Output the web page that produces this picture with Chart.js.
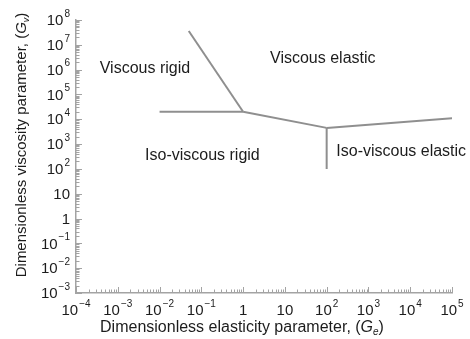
<!DOCTYPE html>
<html>
<head>
<meta charset="utf-8">
<script src="https://cdn.jsdelivr.net/npm/chart.js@4"></script>
<style>
  html, body { margin: 0; padding: 0; background: #fff; }
  #wrap { width: 470px; height: 339px; }
</style>
</head>
<body>
<div id="wrap"><canvas id="regimeChart"></canvas></div>
<script>
// regime boundaries, points as [Ge, Gv]
const viscousRigidEdge = [[0.05, 3.6e7], [1, 2e4]];
const isoRigidEdge = [[0.01, 2e4], [1, 2e4]];
const viscousMidEdge = [[1, 2e4], [100, 4.5e3]];
const isoElasticEdge = [[100, 4.5e3], [100, 100]];
const viscousElasticEdge = [[100, 4.5e3], [1e5, 1.1e4]];

const regionNames = ['Viscous rigid', 'Viscous elastic', 'Iso-viscous rigid', 'Iso-viscous elastic'];
// where each name sits (left edge, middle), in data units
const regionAnchors = [[3.7e-4, 1.1e6], [4.4, 2.7e6], [0.0045, 330], [170, 520]];

const xDecades = [-4, -3, -2, -1, 0, 1, 2, 3, 4, 5];
const yDecades = [-3, -2, -1, 0, 1, 2, 3, 4, 5, 6, 7, 8];
const xTickLabels = [['10', '\u22124'], ['10', '\u22123'], ['10', '\u22122'], ['10', '\u22121'], ['1', ''], ['10', ''], ['10', '2'], ['10', '3'], ['10', '4'], ['10', '5']];
const yTickLabels = [['10', '\u22123'], ['10', '\u22122'], ['10', '\u22121'], ['1', ''], ['10', ''], ['10', '2'], ['10', '3'], ['10', '4'], ['10', '5'], ['10', '6'], ['10', '7'], ['10', '8']];

const FONT = 'Arial, "Liberation Sans", sans-serif';
const LINE = '#8f8f8f';
const AXIS = '#a3a3a3';
const INK = '#1c1c1c';

function toPoints(arr) {
    return arr.map(p => ({ x: p[0], y: p[1] }));
}

function edge(arr) {
    return {
        data: toPoints(arr),
        showLine: true,
        borderColor: LINE,
        borderWidth: 2,
        pointRadius: 0,
        fill: false
    };
}

// decades plus 2..9 in between
function logTicks(decades) {
    const out = [];
    decades.forEach((e, i) => {
        const m = i === decades.length - 1 ? 1 : 9;
        for (let k = 1; k <= m; k++) {
            out.push({ value: k * Math.pow(10, e), major: k === 1 });
        }
    });
    return out;
}

function drawPowerLabel(ctx, base, exp, x, y, align) {
    ctx.font = '15px ' + FONT;
    const bw = ctx.measureText(base).width;
    ctx.font = '10px ' + FONT;
    const ew = exp ? ctx.measureText(exp).width + 1 : 0;
    const w = bw + ew;
    let left = x;
    if (align === 'center') left = x - w / 2;
    if (align === 'right') left = x - w;
    ctx.textAlign = 'left';
    ctx.textBaseline = 'middle';
    ctx.font = '15px ' + FONT;
    ctx.fillText(base, left, y);
    if (exp) {
        ctx.font = '10px ' + FONT;
        ctx.fillText(exp, left + bw + 1, y - 7);
    }
}

// "(G" + italic subscript + ")"
function drawGTitle(ctx, prefix, sub, cx, cy, size) {
    const f = size + 'px ' + FONT;
    const fi = 'italic ' + size + 'px ' + FONT;
    const fs = 'italic ' + Math.round(size * 0.62) + 'px ' + FONT;
    ctx.font = f;
    const w1 = ctx.measureText(prefix + '(').width;
    ctx.font = fi;
    const wg = ctx.measureText('G').width;
    ctx.font = fs;
    const ws = ctx.measureText(sub).width;
    ctx.font = f;
    const wc = ctx.measureText(')').width;
    let x = cx - (w1 + wg + ws + wc) / 2;
    ctx.textAlign = 'left';
    ctx.textBaseline = 'middle';
    ctx.font = f;
    ctx.fillText(prefix + '(', x, cy); x += w1;
    ctx.font = fi;
    ctx.fillText('G', x, cy); x += wg;
    ctx.font = fs;
    ctx.fillText(sub, x, cy + 4); x += ws;
    ctx.font = f;
    ctx.fillText(')', x, cy);
}

const decorations = {
    id: 'decorations',
    afterDraw(chart) {
        const { ctx, chartArea: a, scales: { x, y } } = chart;
        ctx.save();

        // inward tick marks
        ctx.strokeStyle = AXIS;
        ctx.lineWidth = 1;
        x.ticks.forEach(t => {
            const px = Math.round(x.getPixelForValue(t.value)) + 0.5;
            const len = t.major ? 6 : 3.5;
            ctx.beginPath();
            ctx.moveTo(px, a.bottom);
            ctx.lineTo(px, a.bottom - len);
            ctx.stroke();
        });
        y.ticks.forEach(t => {
            const py = Math.round(y.getPixelForValue(t.value)) + 0.5;
            const len = t.major ? 6 : 3.5;
            ctx.beginPath();
            ctx.moveTo(a.left, py);
            ctx.lineTo(a.left + len, py);
            ctx.stroke();
        });

        // tick labels
        ctx.fillStyle = INK;
        xDecades.forEach((e, i) => {
            const px = x.getPixelForValue(Math.pow(10, e));
            drawPowerLabel(ctx, xTickLabels[i][0], xTickLabels[i][1], px, a.bottom + 18, 'center');
        });
        yDecades.forEach((e, i) => {
            const py = y.getPixelForValue(Math.pow(10, e));
            drawPowerLabel(ctx, yTickLabels[i][0], yTickLabels[i][1], a.left - 6, py + 1, 'right');
        });

        // region names
        ctx.font = '16px ' + FONT;
        ctx.textAlign = 'left';
        ctx.textBaseline = 'middle';
        regionNames.forEach((name, i) => {
            const [gx, gy] = regionAnchors[i];
            ctx.fillText(name, x.getPixelForValue(gx), y.getPixelForValue(gy));
        });

        // axis titles
        drawGTitle(ctx, 'Dimensionless elasticity parameter, ', 'e', 242, 328, 16);
        ctx.save();
        ctx.translate(22, 145);
        ctx.rotate(-Math.PI / 2);
        drawGTitle(ctx, 'Dimensionless viscosity parameter, ', 'v', 0, 0, 15);
        ctx.restore();

        ctx.restore();
    }
};

new Chart(document.getElementById('regimeChart'), {
    type: 'scatter',
    data: {
        datasets: [
            edge(viscousRigidEdge),
            edge(isoRigidEdge),
            edge(viscousMidEdge),
            edge(isoElasticEdge),
            edge(viscousElasticEdge)
        ]
    },
    options: {
        responsive: true,
        maintainAspectRatio: false,
        animation: false,
        layout: { padding: { left: 76, right: 18, top: 20, bottom: 46 } },
        plugins: {
            legend: { display: false },
            tooltip: { enabled: false }
        },
        scales: {
            x: {
                type: 'logarithmic',
                min: 1e-4,
                max: 1e5,
                afterBuildTicks: s => { s.ticks = logTicks(xDecades); },
                ticks: { display: false },
                grid: { display: false, drawTicks: false },
                border: { display: true, color: AXIS, width: 1.5 }
            },
            y: {
                type: 'logarithmic',
                min: 1e-3,
                max: 1e8,
                afterBuildTicks: s => { s.ticks = logTicks(yDecades); },
                ticks: { display: false },
                grid: { display: false, drawTicks: false },
                border: { display: true, color: AXIS, width: 1.5 }
            }
        }
    },
    plugins: [decorations]
});
</script>
</body>
</html>
